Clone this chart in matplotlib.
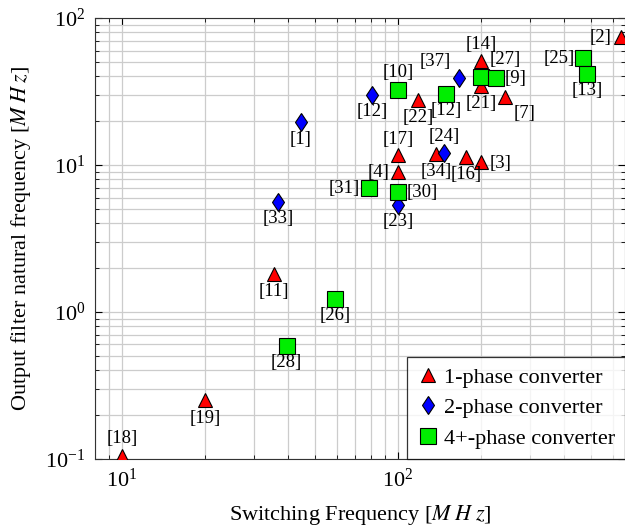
import matplotlib.pyplot as plt
import numpy as np

plt.rcParams['font.family'] = ['Liberation Serif', 'DejaVu Serif']
plt.rcParams['mathtext.fontset'] = 'stix'
plt.rcParams['font.size'] = 16

# 1-phase converters
p1_ref = ["[18]", "[19]", "[11]", "[17]", "[4]", "[22]", "[34]", "[16]", "[3]", "[14]", "[21]", "[7]", "[2]"]
p1_fsw = [10, 20, 35.6, 100, 100, 118, 137, 176, 200, 200, 200, 245, 640]
p1_fn = [0.105, 0.25, 1.82, 11.6, 8.9, 27.5, 11.9, 11.4, 10.4, 51, 34.6, 29, 74]
p1_off = [(0, -17), (0, 18), (0, 18), (0, -16), (-20, 0), (0, 17), (0, 18), (0, 18), (19, 1), (0, -16), (0, 18), (19, 17), (-20, 0)]

# 2-phase converters
p2_ref = ["[1]", "[33]", "[12]", "[23]", "[24]", "[37]"]
p2_fsw = [44.4, 36.8, 80.7, 100, 147, 166]
p2_fn = [19.5, 5.55, 29.9, 5.3, 12.0, 39.3]
p2_off = [(0, 17), (0, 16), (0, 16), (0, 16), (0, -17), (-24, -16)]

# 4+-phase converters
p4_ref = ["[28]", "[26]", "[31]", "[30]", "[10]", "[12]", "[27]", "[9]", "[25]", "[13]"]
p4_fsw = [39.5, 59.3, 78.7, 100, 100, 149, 200, 227, 466, 485]
p4_fn = [0.587, 1.22, 6.93, 6.52, 32.4, 30.3, 39.9, 38.9, 53.2, 41.4]
p4_off = [(0, 17), (0, 16), (-25, 0), (24, 0), (0, -17), (0, 16), (24, -17), (19, 0), (-23, 0), (0, 16)]

fig = plt.figure(figsize=(6.25, 5.28), dpi=100)
ax = fig.add_axes([0.152, 0.131, 0.848, 0.835])

ax.plot(p1_fsw, p1_fn, linestyle='none', marker='^', markersize=10,
        markerfacecolor='red', markeredgecolor='black', markeredgewidth=0.8,
        label='1-phase converter', zorder=3)
ax.plot(p2_fsw, p2_fn, linestyle='none', marker='d', markersize=9.5,
        markerfacecolor='blue', markeredgecolor='black', markeredgewidth=0.8,
        label='2-phase converter', zorder=3)
ax.plot(p4_fsw, p4_fn, linestyle='none', marker='s', markersize=11.5,
        markerfacecolor='#00ee00', markeredgecolor='black', markeredgewidth=0.8,
        label='4+-phase converter', zorder=3)

for refs, xs, ys, offs in [(p1_ref, p1_fsw, p1_fn, p1_off),
                           (p2_ref, p2_fsw, p2_fn, p2_off),
                           (p4_ref, p4_fsw, p4_fn, p4_off)]:
    for r, x, y, (dx, dy) in zip(refs, xs, ys, offs):
        ax.annotate(r, (x, y), xytext=(dx * 0.72, -dy * 0.72), textcoords='offset points',
                    ha='center', va='center', fontsize=13.5, zorder=4)

ax.set_xscale('log')
ax.set_yscale('log')
ax.set_xlim(7.98, 664)
ax.set_ylim(0.1, 100)
ax.grid(True, which='both', color='#cccccc', linewidth=0.9)
ax.set_axisbelow(True)
ax.tick_params(which='both', direction='in', top=True, right=True)
ax.tick_params(which='major', length=5, pad=7, labelsize=16)
ax.tick_params(which='minor', length=3)
for s in ax.spines.values():
    s.set_color('#333333')

ax.set_xlabel(r'Switching Frequency [$M\;H\;z$]', fontsize=16, labelpad=8)
ax.set_ylabel(r'Output filter natural frequency [$M\;H\;z$]', fontsize=16, labelpad=9)

leg = ax.legend(loc='lower right', borderaxespad=0, fancybox=False, edgecolor='black',
                handletextpad=0.2, handlelength=1.0, borderpad=0.45, labelspacing=0.45,
                fontsize=16)
leg.get_frame().set_linewidth(0.9)

fig.savefig('out.png', dpi=100)
